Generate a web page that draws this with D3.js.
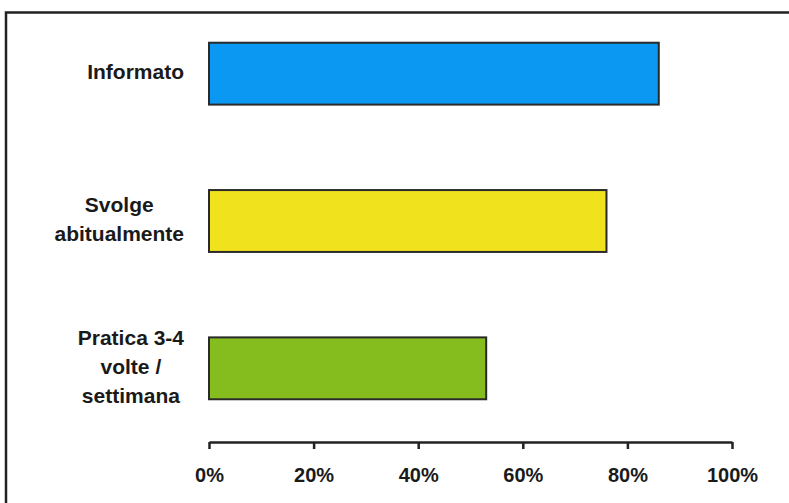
<!DOCTYPE html>
<html>
<head>
<meta charset="utf-8">
<script src="https://cdn.jsdelivr.net/npm/d3@7"></script>
<style>
  html, body { margin: 0; padding: 0; background: #fff; }
  svg { display: block; }
  text { font-family: "Liberation Sans", Arial, sans-serif; font-weight: bold; fill: #1a1a1a; }
</style>
</head>
<body>
<script>
// Survey categories (label lines) and their shares in percent
const categories = [
  ["Informato"],
  ["Svolge", "abitualmente"],
  ["Pratica 3-4", "volte /", "settimana"]
];
const values = [86, 76, 53];
const barColors = ["#0A98F2", "#F0E21C", "#85BD1F"];
const tickValues = [0, 20, 40, 60, 80, 100];

const W = 789, H = 503;
const svg = d3.select("body").append("svg").attr("width", W).attr("height", H);

// outer frame (runs past the right and bottom edges)
svg.append("rect")
  .attr("x", 6).attr("y", 12.5)
  .attr("width", W + 20).attr("height", H + 20)
  .attr("fill", "none").attr("stroke", "#222").attr("stroke-width", 2.5);

const x = d3.scaleLinear().domain([0, 100]).range([209, 732]);
const y = d3.scaleBand().domain(d3.range(categories.length)).range([0, 442]).paddingInner(0.58).paddingOuter(0.29);

// bars
svg.selectAll("rect.bar").data(values).join("rect")
  .attr("class", "bar")
  .attr("x", x(0))
  .attr("y", (d, i) => y(i))
  .attr("width", d => x(d) - x(0))
  .attr("height", y.bandwidth())
  .attr("fill", (d, i) => barColors[i])
  .attr("stroke", "#2a2a2a").attr("stroke-width", 2);

// category labels: block right-aligned, lines centred within block
const lineH = 29;
categories.forEach((lines, i) => {
  const g = svg.append("g");
  const texts = g.selectAll("text").data(lines).join("text")
    .attr("font-size", 21)
    .attr("text-anchor", "middle")
    .text(d => d);
  const maxW = d3.max(texts.nodes(), n => n.getComputedTextLength());
  const cx = 184 - maxW / 2;
  const cy = y(i) + y.bandwidth() / 2;
  const top = cy - (lines.length - 1) * lineH / 2;
  texts.attr("x", cx).attr("y", (d, j) => top + j * lineH).attr("dy", "0.27em");
});

// x axis
const axis = svg.append("g")
  .attr("transform", "translate(0,442)")
  .call(d3.axisBottom(x).tickValues(tickValues).tickFormat(d => d + "%").tickSize(7).tickSizeOuter(0));
axis.select(".domain").attr("stroke", "#222").attr("stroke-width", 2.5);
axis.selectAll(".tick line").attr("stroke", "#222").attr("stroke-width", 2.5);
axis.selectAll(".tick text")
  .attr("font-size", 20)
  .attr("font-family", "Liberation Sans, Arial, sans-serif")
  .attr("font-weight", "bold")
  .attr("fill", "#1a1a1a")
  .attr("y", 40)
  .attr("dy", 0);
</script>
</body>
</html>
